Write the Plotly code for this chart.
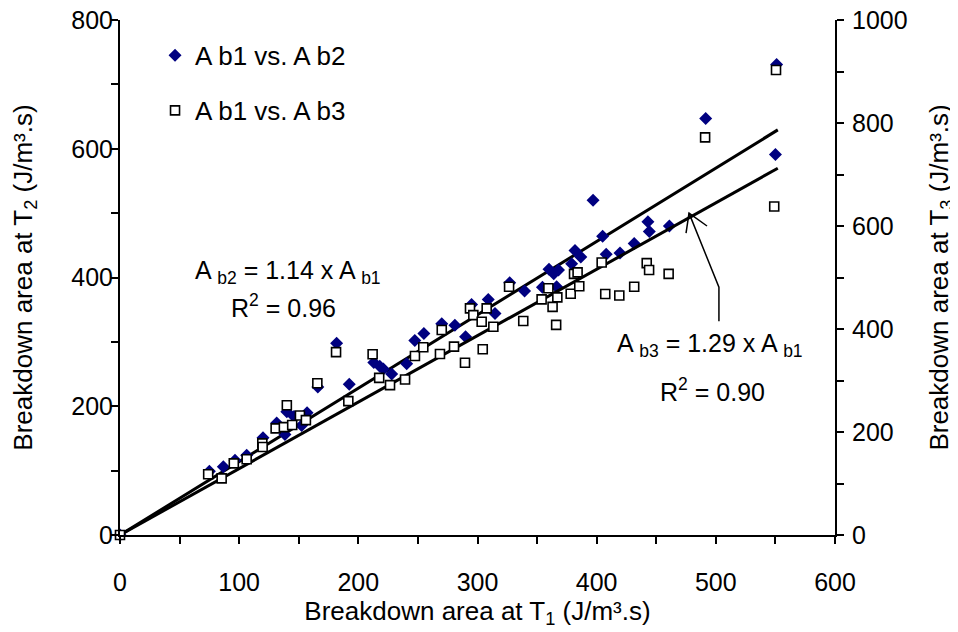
import plotly.graph_objects as go

# ---- data ----
ab1_vs_ab2_x = [0, 75, 86.7, 96.5, 106.3, 120, 131.5, 138.4, 140, 146, 152.4, 157, 166, 181.8, 192.4,
                213, 218, 221, 228, 240.6, 247.4, 255, 270, 281, 290, 295, 309, 314.7, 327, 339.5,
                354.5, 360, 364, 368, 366.4, 379, 381.8, 386.7, 397, 405, 408, 419.6, 431.5, 443,
                444.2, 461, 491.5, 551, 550]
ab1_vs_ab2_y = [0, 99, 106, 116, 124, 151, 174, 156, 191.5, 184, 170, 190, 230, 298, 234,
                268, 262, 258, 250, 266, 302, 313, 328, 326, 308, 358, 366, 344, 392, 379,
                385, 413, 406, 411.5, 385.6, 421.5, 442, 432, 520, 464, 436, 438, 453, 486.5,
                471.5, 480, 647, 731, 591]

ab1_vs_ab3_x = [0, 74, 85.3, 95.5, 106.3, 119.4, 119.7, 130.6, 137.5, 140, 144.5, 151, 156, 165.6,
                181.3, 191.6, 212, 217.5, 226.6, 239.2, 247.5, 254.5, 268.5, 270, 280.3, 289.5,
                293.7, 296.5, 303.5, 304.4, 307.7, 313.3, 326.5, 338.4, 353.8, 359.5, 363, 366,
                367, 378.2, 381, 384, 385.4, 404.2, 407.2, 419, 431.5, 442, 444, 460.4, 491,
                550.5, 549]
ab1_vs_ab3_y = [0, 118, 110, 139, 147, 178, 171, 207, 209.5, 252, 213.6, 232, 223, 294.6,
                355, 260, 351, 305, 291, 302, 347.6, 364.5, 351.5, 398, 365.7, 334.6,
                440, 427, 414, 360.6, 440, 404.5, 482, 415.5, 457.6, 479, 443, 408,
                461.5, 468.5, 507, 510, 483, 529, 468, 465, 482, 528, 514.6, 507, 772,
                903, 638]

slope_ab2 = 1.14
slope_ab3 = 1.29
fit_x = [0, 552]

FONT = "Liberation Sans, Arial, sans-serif"
FS_TICK = 25
FS_TITLE = 26
FS_LEG = 26
FS_ANN = 25

fig = go.Figure()

# trend lines
fig.add_trace(go.Scatter(x=fit_x, y=[slope_ab2 * v for v in fit_x], mode="lines",
                         line=dict(color="black", width=3), showlegend=False, yaxis="y",
                         hoverinfo="skip"))
fig.add_trace(go.Scatter(x=fit_x, y=[slope_ab3 * v for v in fit_x], mode="lines",
                         line=dict(color="black", width=3), showlegend=False, yaxis="y2",
                         hoverinfo="skip"))

fig.add_trace(go.Scatter(x=ab1_vs_ab2_x, y=ab1_vs_ab2_y, mode="markers", name="A b1 vs. A b2",
                         marker=dict(symbol="diamond", size=10, color="#000080",
                                     line=dict(width=0)),
                         yaxis="y", cliponaxis=False, legend="legend"))
fig.add_trace(go.Scatter(x=ab1_vs_ab3_x, y=ab1_vs_ab3_y, mode="markers", name="A b1 vs. A b3",
                         marker=dict(symbol="square", size=9, color="white",
                                     line=dict(width=1.6, color="black")),
                         yaxis="y2", cliponaxis=False, legend="legend2"))
# empty trace so that the label-only left axis (y3) is drawn
fig.add_trace(go.Scatter(x=[None], y=[None], mode="markers", yaxis="y3",
                         showlegend=False, hoverinfo="skip"))

axis_common = dict(showline=True, linecolor="black", linewidth=2, ticks="outside",
                   ticklen=7, tickwidth=1.5, tickcolor="black", showgrid=False,
                   zeroline=False, automargin=False, ticklabeloverflow="allow",
                   tickfont=dict(family=FONT, size=FS_TICK, color="black"))

fig.update_layout(
    # page body has an 8px default margin, so the figure is 8px smaller
    width=950, height=624,
    margin=dict(l=112, r=123, t=12, b=97),
    paper_bgcolor="white", plot_bgcolor="white",
    font=dict(family=FONT, size=FS_TICK, color="black"),
    xaxis=dict(range=[0, 600], dtick=50, tick0=0, ticklabelstep=2, ticklabelstandoff=17,
               title=dict(text="Breakdown area at T<sub>1</sub> (J/m³.s)",
                          font=dict(family=FONT, size=FS_TITLE), standoff=3),
               **axis_common),
    # tick marks of the left axis (labels drawn by yaxis3, closer to the line)
    yaxis=dict(range=[0, 800], dtick=100, tick0=0, showticklabels=False,
               **axis_common),
    yaxis3=dict(range=[0, 800], dtick=200, tick0=0, overlaying="y", side="left", anchor="x",
                showline=False, ticks="", showgrid=False, zeroline=False, automargin=False,
                ticklabelstandoff=6, ticklabeloverflow="allow",
                tickfont=dict(family=FONT, size=FS_TICK, color="black"),
                title=dict(text="Breakdown area at T<sub>2</sub> (J/m³.s)",
                           font=dict(family=FONT, size=FS_TITLE), standoff=35)),
    yaxis2=dict(range=[0, 1000], dtick=100, tick0=0, ticklabelstep=2, overlaying="y",
                side="right", anchor="x", ticklabelstandoff=3,
                **axis_common),
    legend=dict(x=0.049, y=0.977, xanchor="left", yanchor="top", bgcolor="rgba(0,0,0,0)",
                font=dict(family=FONT, size=FS_LEG)),
    legend2=dict(x=0.049, y=0.870, xanchor="left", yanchor="top", bgcolor="rgba(0,0,0,0)",
                 font=dict(family=FONT, size=FS_LEG)),
    showlegend=True,
)

# right axis title as a rotated annotation (axis title gets clamped at the edge)
fig.add_annotation(x=1.147, y=0.5, xref="paper", yref="paper", xanchor="center", yanchor="middle",
                   text="Breakdown area at T<sub>3</sub> (J/m³.s)", textangle=-90,
                   showarrow=False, font=dict(family=FONT, size=FS_TITLE, color="black"))

ann_font = dict(family=FONT, size=FS_ANN, color="black")
fig.add_annotation(x=141, y=408, xref="x", yref="y", text="A <sub>b2</sub> = 1.14 x A <sub>b1</sub>",
                   showarrow=False, font=ann_font)
fig.add_annotation(x=137, y=356, xref="x", yref="y", text="R<sup>2</sup> = 0.96",
                   showarrow=False, font=ann_font)
fig.add_annotation(x=495, y=295, xref="x", yref="y", text="A <sub>b3</sub> = 1.29 x A <sub>b1</sub>",
                   showarrow=False, font=ann_font)
fig.add_annotation(x=497, y=225, xref="x", yref="y", text="R<sup>2</sup> = 0.90",
                   showarrow=False, font=ann_font)

# leader arrow
fig.add_shape(type="path", xref="x", yref="y",
              path="M 502.6 332 L 502.6 385 L 477.5 500",
              line=dict(color="black", width=1.5))
fig.add_shape(type="path", xref="x", yref="y",
              path="M 475 469 L 477.5 500 L 492.6 480",
              line=dict(color="black", width=1.5))

fig.write_html("out.html")
